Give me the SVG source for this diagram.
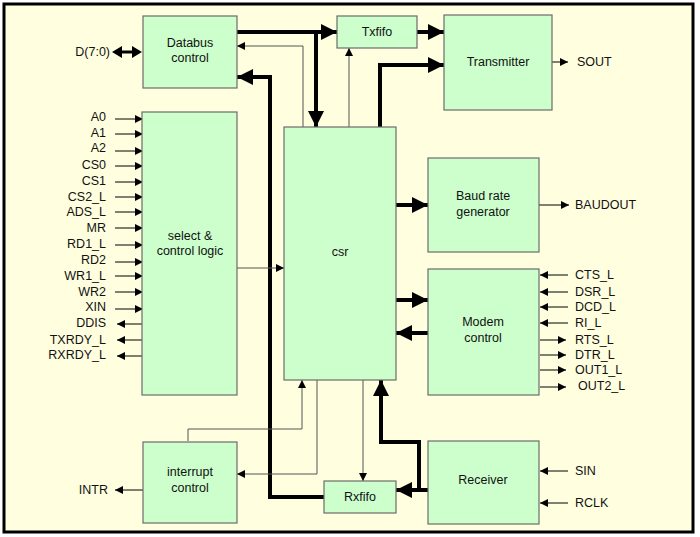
<svg xmlns="http://www.w3.org/2000/svg" width="700" height="537" viewBox="0 0 700 537">
<style>
.b{fill:#ccffcc;stroke:#6b6b6b;stroke-width:1.2}
text{font-family:"Liberation Sans",Arial,sans-serif;font-size:12.5px;fill:#111}
.c{text-anchor:middle}
.r{text-anchor:end}
.t{fill:none;stroke:#000;stroke-width:1}
.g{fill:none;stroke:#555;stroke-width:1}
.k{fill:none;stroke:#000;stroke-width:4}
</style>
<defs>
<marker id="a" viewBox="0 0 10 10" refX="10" refY="5" markerWidth="10" markerHeight="8" markerUnits="userSpaceOnUse" orient="auto"><path d="M0,0L10,5L0,10z"/></marker>
<marker id="A" viewBox="0 0 10 10" refX="10" refY="5" markerWidth="16" markerHeight="16" markerUnits="userSpaceOnUse" orient="auto"><path d="M0,0L10,5L0,10z"/></marker>
</defs>
<rect x="4" y="4" width="689" height="528" fill="#ffffe0" stroke="#000" stroke-width="3"/>
<g id="connectors">
<path d="M118,52H136" stroke="#000" stroke-width="3"/>
<path d="M112,52L122,46V58z M142,52L132,46V58z"/>
<path class="k" d="M237,32H337" marker-end="url(#A)"/>
<path class="k" d="M316,32V127" marker-end="url(#A)"/>
<path class="g" d="M303,127V46H237" marker-end="url(#a)"/>
<path class="g" d="M349,127V48" marker-end="url(#a)"/>
<path class="k" d="M416,32H444" marker-end="url(#A)"/>
<path class="k" d="M380,127V65H444" marker-end="url(#A)"/>
<path class="k" d="M324,497H270V77H237" marker-end="url(#A)"/>
<path class="g" d="M237,268H284" marker-end="url(#a)"/>
<path class="t" d="M552,62H568" marker-end="url(#a)"/>
<path class="k" d="M396,205H428" marker-end="url(#A)"/>
<path class="k" d="M396,300H428" marker-end="url(#A)"/>
<path class="k" d="M428,333H396" marker-end="url(#A)"/>
<path class="t" d="M539,205H569" marker-end="url(#a)"/>
<path class="k" d="M428,490H396" marker-end="url(#A)"/>
<path class="k" d="M419,490V442H381V380" marker-end="url(#A)"/>
<path class="g" d="M363,380V481" marker-end="url(#a)"/>
<path class="g" d="M317,380V474H237" marker-end="url(#a)"/>
<path class="g" d="M188,441V429H302V380" marker-end="url(#a)"/>
<path class="t" d="M143,490H115" marker-end="url(#a)"/>
<path class="t" d="M568,471H540" marker-end="url(#a)"/>
<path class="t" d="M568,503H540" marker-end="url(#a)"/>
<g class="t">
<path d="M115,119H143" marker-end="url(#a)"/><path d="M115,134H143" marker-end="url(#a)"/><path d="M115,151H143" marker-end="url(#a)"/><path d="M115,166H143" marker-end="url(#a)"/><path d="M115,182H143" marker-end="url(#a)"/><path d="M115,197H143" marker-end="url(#a)"/><path d="M115,212H143" marker-end="url(#a)"/><path d="M115,228H143" marker-end="url(#a)"/><path d="M115,245H143" marker-end="url(#a)"/><path d="M115,262H143" marker-end="url(#a)"/><path d="M115,276H143" marker-end="url(#a)"/><path d="M115,292H143" marker-end="url(#a)"/><path d="M115,309H143" marker-end="url(#a)"/>
<path d="M143,324H117" marker-end="url(#a)"/><path d="M143,340H117" marker-end="url(#a)"/><path d="M143,356H117" marker-end="url(#a)"/>
<path d="M568,275H540" marker-end="url(#a)"/><path d="M568,292H540" marker-end="url(#a)"/><path d="M568,307H540" marker-end="url(#a)"/><path d="M568,323H540" marker-end="url(#a)"/>
<path d="M540,340H566" marker-end="url(#a)"/><path d="M540,355H566" marker-end="url(#a)"/><path d="M540,370H566" marker-end="url(#a)"/><path d="M540,387H566" marker-end="url(#a)"/>
</g>
</g>
<g id="databus"><rect class="b" x="143" y="16" width="94" height="72"/><text class="c" x="190" y="47">Databus</text><text class="c" x="190" y="62">control</text></g>
<g id="txfifo"><rect class="b" x="337" y="16" width="80" height="32"/><text class="c" x="377" y="36">Txfifo</text></g>
<g id="transmitter"><rect class="b" x="444" y="15" width="108" height="95"/><text class="c" x="498" y="66">Transmitter</text></g>
<g id="select"><rect class="b" x="142" y="112" width="95" height="283"/><text class="c" x="190" y="240">select &amp;</text><text class="c" x="190" y="255">control logic</text></g>
<g id="csr"><rect class="b" x="284" y="127" width="112" height="253"/><text class="c" x="340" y="256">csr</text></g>
<g id="baud"><rect class="b" x="428" y="158" width="111" height="94"/><text class="c" x="483" y="200">Baud rate</text><text class="c" x="483" y="216">generator</text></g>
<g id="modem"><rect class="b" x="428" y="269" width="111" height="126"/><text class="c" x="483" y="326">Modem</text><text class="c" x="483" y="342">control</text></g>
<g id="interrupt"><rect class="b" x="143" y="442" width="94" height="81"/><text class="c" x="190" y="476">interrupt</text><text class="c" x="190" y="492">control</text></g>
<g id="rxfifo"><rect class="b" x="324" y="481" width="72" height="32"/><text class="c" x="360" y="501">Rxfifo</text></g>
<g id="receiver"><rect class="b" x="428" y="441" width="111" height="83"/><text class="c" x="483" y="484">Receiver</text></g>
<g id="labels">
<text class="r" x="110" y="56">D(7:0)</text>
<text x="577" y="66">SOUT</text><text x="575" y="209">BAUDOUT</text>
<text class="r" x="108" y="494">INTR</text>
<text x="575" y="475">SIN</text><text x="575" y="507">RCLK</text>
<text class="r" x="106" y="121">A0</text><text class="r" x="106" y="137">A1</text><text class="r" x="106" y="152">A2</text><text class="r" x="106" y="169">CS0</text><text class="r" x="106" y="185">CS1</text><text class="r" x="106" y="201">CS2_L</text><text class="r" x="106" y="216">ADS_L</text><text class="r" x="106" y="232">MR</text><text class="r" x="106" y="248">RD1_L</text><text class="r" x="106" y="264">RD2</text><text class="r" x="106" y="280">WR1_L</text><text class="r" x="106" y="296">WR2</text><text class="r" x="106" y="311">XIN</text><text class="r" x="106" y="327">DDIS</text><text class="r" x="106" y="344">TXRDY_L</text><text class="r" x="106" y="359">RXRDY_L</text>
<text x="575" y="279">CTS_L</text><text x="575" y="296">DSR_L</text><text x="575" y="311">DCD_L</text><text x="575" y="327">RI_L</text><text x="575" y="344">RTS_L</text><text x="575" y="359">DTR_L</text><text x="575" y="374">OUT1_L</text><text x="578" y="390">OUT2_L</text>
</g>
</svg>
